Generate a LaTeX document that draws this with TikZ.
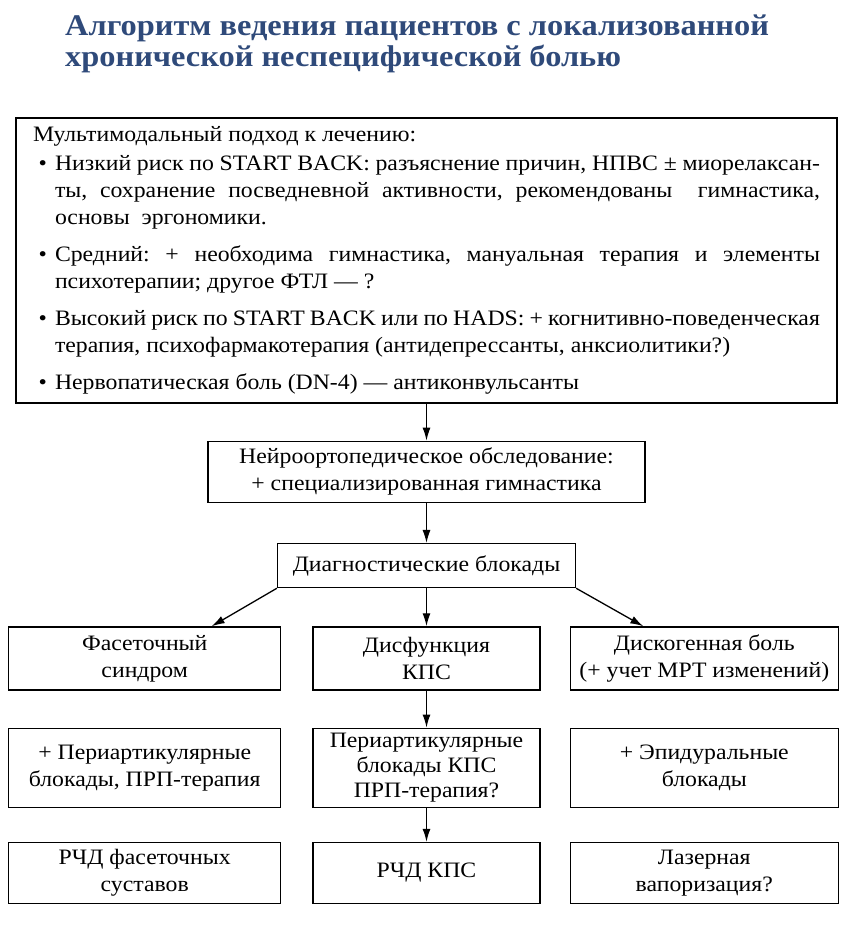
\documentclass[tikz,border=0pt]{standalone}
\usepackage{fontspec}
\setmainfont{Liberation Serif}[FakeStretch=1.08]
\usepackage{enumitem}
\usetikzlibrary{arrows.meta,positioning}
\definecolor{titleblue}{RGB}{47,74,122}

\begin{document}
\frenchspacing
\begin{tikzpicture}[
  x=1pt, y=1pt,
  font=\fontsize{22}{27}\selectfont,
  >={Latex[length=13pt,width=8pt]},
  box/.style={rectangle, draw=black, line width=1.3pt, align=center, inner sep=2pt},
  bigbox/.style={box, align=justify, text width=787pt, inner xsep=17pt, minimum height=285pt},
  rowbox/.style={box, minimum height=63pt},
  link/.style={->, line width=1.3pt},
  headline/.style={font=\fontsize{30}{31}\selectfont\bfseries, text=titleblue, align=left, inner sep=0pt},
]
\useasboundingbox (0,0) rectangle (852,-930);

\node[headline, anchor=base west] (title) at (65,-66)
  {Алгоритм ведения пациентов с локализованной\\хронической неспецифической болью};

\node[bigbox] (multi) at (426.5,-260.5) {\hyphenpenalty=10000
  Мультимодальный подход к лечению:
  \begin{itemize}[leftmargin=22pt, labelsep=8pt, itemsep=10pt, parsep=0pt, topsep=2pt, partopsep=0pt]
  \item Низкий риск по START BACK: разъяснение причин, НПВС ± миорелаксан-\linebreak
    ты, сохранение посведневной активности, рекомендованы\ \ гимнастика,\linebreak
    основы\ \ эргономики.
  \item Средний: + необходима гимнастика, мануальная терапия и элементы\linebreak
    психотерапии; другое ФТЛ — ?
  \item Высокий риск по START BACK или по HADS: + когнитивно-поведенческая\linebreak
    терапия, психофармакотерапия (антидепрессанты, анксиолитики?)
  \item Нервопатическая боль (DN-4) — антиконвульсанты
  \end{itemize}};

\node[box, below=37pt of multi, minimum width=437pt, minimum height=61pt] (neuro)
  {Нейроортопедическое обследование:\\+ специализированная гимнастика};
\node[box, below=40pt of neuro, minimum width=298pt, minimum height=44pt] (diag)
  {Диагностические блокады};

% three branches
\node[rowbox, below=38pt of diag, minimum width=227pt] (kps) {Дисфункция\\КПС};
\node[rowbox, left=31pt of kps, minimum width=272pt] (facet) {Фасеточный\\синдром};
\node[rowbox, right=29pt of kps, minimum width=268pt] (disc) {Дискогенная боль\\(+ учет МРТ изменений)};

\node[box, below=37pt of kps, minimum width=227pt, minimum height=79pt, font=\fontsize{22}{25}\selectfont] (kpsblock)
  {Периартикулярные\\блокады КПС\\ПРП-терапия?};
\node[box, left=31pt of kpsblock, minimum width=272pt, minimum height=79pt] (facetblock)
  {+ Периартикулярные\\блокады, ПРП-терапия};
\node[box, right=29pt of kpsblock, minimum width=268pt, minimum height=79pt] (discblock)
  {+ Эпидуральные\\блокады};

\node[box, below=34pt of kpsblock, minimum width=227pt, minimum height=61pt] (kpsrf) {РЧД КПС};
\node[box, left=31pt of kpsrf, minimum width=272pt, minimum height=61pt] (facetrf) {РЧД фасеточных\\суставов};
\node[box, right=29pt of kpsrf, minimum width=268pt, minimum height=61pt] (laser) {Лазерная\\вапоризация?};

\draw[link] (multi) -- (neuro);
\draw[link] (neuro) -- (diag);
\draw[link] (diag.south west) -- ([xshift=67pt]facet.north);
\draw[link] (diag) -- (kps);
\draw[link] (diag.south east) -- ([xshift=-61pt]disc.north);
\draw[link] (kps) -- (kpsblock);
\draw[link] (kpsblock) -- (kpsrf);

\end{tikzpicture}
\end{document}
